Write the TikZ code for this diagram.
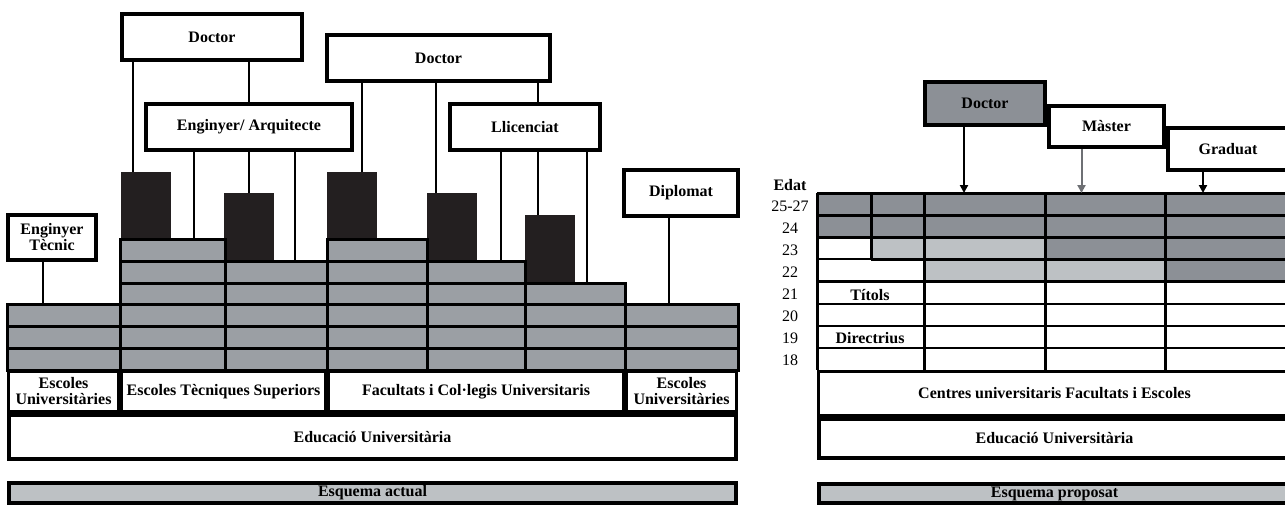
\documentclass[tikz,border=0pt]{standalone}
\usepackage{fontspec}
\setmainfont{Liberation Serif}
\usepackage{tikz}
\usetikzlibrary{arrows.meta}
\usetikzlibrary{positioning}

\definecolor{cellgrey}{HTML}{9B9FA4}
\definecolor{darkcell}{HTML}{8C9096}
\definecolor{lightcell}{HTML}{BDC1C4}
\definecolor{blockblack}{HTML}{231F20}
\definecolor{arrowgrey}{HTML}{6E7074}

\begin{document}
\begin{tikzpicture}[x=1pt, y=-1pt,
    every node/.style={font=\fontsize{16}{17}\selectfont, inner sep=0pt},
    titlebox/.style={draw, line width=4pt, fill=white, align=center,
        font=\fontsize{16}{16}\selectfont\bfseries},
    rowbox/.style={draw, line width=3pt, fill=white, align=center,
        font=\fontsize{16}{16}\selectfont\bfseries},
    blk/.style={fill=blockblack, minimum width=50pt, outer sep=0pt, anchor=north west},
    gcell/.style={fill=cellgrey, draw=black, line width=3pt},
    conn/.style={line width=2pt},
    arr/.style={line width=2pt, -{Triangle[width=8pt,length=8pt]}},
    heavy/.style={line width=3pt},
    light/.style={line width=2pt}]
    \useasboundingbox (0,0) rectangle (1285,507);

    % esquema actual
    \node[blk, minimum height=68pt] (bk1) at (121,172) {};
    \node[blk, minimum height=69pt] (bk2) at (224,193) {};
    \node[blk, minimum height=68pt] (bk3) at (327,172) {};
    \node[blk, minimum height=69pt] (bk4) at (427,193) {};
    \node[blk, minimum height=69pt] (bk5) at (525,215) {};

    \foreach \xa/\xb/\n in {7/120/3, 120/225/6, 225/327/5, 327/427/6,
                            427/525/5, 525/625/4, 625/738/3}
        \foreach \i in {1,...,\n}
            \draw[gcell] (\xa,{370-(\i-1)*21.67}) rectangle (\xb,{370-\i*21.67});

    \coordinate (ea1) at (194,240);
    \coordinate (ea3) at (295,262);
    \coordinate (ll1) at (501,262);
    \coordinate (ll3) at (587,284);
    \coordinate (et) at (43,306);
    \coordinate (dp) at (669,306);

    \node[titlebox, minimum width=180pt, minimum height=46pt] (doc1) at (212,37) {Doctor};
    \node[titlebox, minimum width=206pt, minimum height=46pt] (engarq) at (249,127) {Enginyer/ Arquitecte};
    \node[titlebox, minimum width=223pt, minimum height=46pt] (doc2) at (438.5,58) {Doctor};
    \node[titlebox, minimum width=150pt, minimum height=46pt] (llic) at (525,127) {Llicenciat};
    \node[titlebox, minimum width=114pt, minimum height=46pt] (dipl) at (681,193) {Diplomat};
    \node[titlebox, minimum width=88pt, minimum height=45pt] (engtec) at (52,237) {Enginyer\\Tècnic};

    \draw[conn] ([xshift=12pt]bk1.north west) -- ([xshift=12pt]bk1.north west |- doc1.south);
    \draw[conn] (engarq.north) -- (engarq.north |- doc1.south);
    \draw[conn] (ea1) -- (ea1 |- engarq.south);
    \draw[conn] (bk2.north) -- (bk2.north |- engarq.south);
    \draw[conn] (ea3) -- (ea3 |- engarq.south);
    \draw[conn] ([xshift=35pt]bk3.north west) -- ([xshift=35pt]bk3.north west |- doc2.south);
    \draw[conn] ([xshift=9pt]bk4.north west) -- ([xshift=9pt]bk4.north west |- doc2.south);
    \draw[conn] ([xshift=13pt]llic.north) -- ([xshift=13pt]llic.north |- doc2.south);
    \draw[conn] (ll1) -- (ll1 |- llic.south);
    \draw[conn] ([xshift=13pt]bk5.north west) -- ([xshift=13pt]bk5.north west |- llic.south);
    \draw[conn] (ll3) -- (ll3 |- llic.south);
    \draw[conn] (et) -- (et |- engtec.south);
    \draw[conn] (dp) -- (dp |- dipl.south);

    \node[rowbox, minimum width=110pt, minimum height=40pt] (eu1) at (63.5,391.5) {Escoles\\Universitàries};
    \node[rowbox, minimum width=204pt, minimum height=40pt] (ets) at (223.5,391.5) {Escoles Tècniques Superiors};
    \node[rowbox, minimum width=295pt, minimum height=40pt] (fcu) at (476,391.5) {Facultats i Col·legis Universitaris};
    \node[rowbox, minimum width=110pt, minimum height=40pt] (eu2) at (681.5,391.5) {Escoles\\Universitàries};
    \node[rowbox, line width=4pt, minimum width=727pt, minimum height=44pt] (edu1) at (372.5,437) {Educació Universitària};
    \node[rowbox, line width=4pt, fill=lightcell, minimum width=727pt, minimum height=20pt] (esq1) at (372.5,493) {Esquema actual};

    % esquema proposat
    \fill[darkcell] (817,193) rectangle (1292,237.3);
    \fill[darkcell] (1045,237.3) rectangle (1292,259.4);
    \fill[darkcell] (1165,259.4) rectangle (1292,281.5);
    \fill[lightcell] (871,237.3) rectangle (1045,259.4);
    \fill[lightcell] (924,259.4) rectangle (1165,281.5);

    \foreach \y in {193,215.1,237.3,281.5}
        \draw[heavy] (817,\y) -- (1292,\y);
    \draw[heavy] (871,259.4) -- (1292,259.4);
    \draw[light] (817,259.4) -- (871,259.4);
    \foreach \y in {303.6,325.8,347.9}
        \draw[light] (817,\y) -- (1292,\y);
    \foreach \x in {817,924,1045,1165}
        \draw[heavy] (\x,193) -- (\x,370);
    \draw[heavy] (871,193) -- (871,259.4);

    \coordinate (gtop) at (817,193);

    \node[font=\fontsize{16}{17}\selectfont\bfseries] (edat) at (790,185) {Edat};
    \foreach \t [count=\k] in {25-27,24,23,22,21,20,19,18}
        \node (age\k) at (790,{184.5+\k*22}) {\t};
    \node[font=\fontsize{16}{17}\selectfont\bfseries] (titols) at (870,295) {Títols};
    \node[font=\fontsize{16}{17}\selectfont\bfseries] (direc) at (870,338) {Directrius};

    \node[titlebox, fill=darkcell, minimum width=120pt, minimum height=43pt] (docR) at (985,103.5) {Doctor};
    \node[titlebox, minimum width=115pt, minimum height=41pt] (mas) at (1106.5,126.5) {Màster};
    \node[titlebox, minimum width=120pt, minimum height=42pt] (grad) at (1228,149) {Graduat};

    \draw[arr] ([xshift=-21pt]docR.south) -- ([xshift=-21pt]docR.south |- gtop);
    \draw[arr, arrowgrey] ([xshift=-25pt]mas.south) -- ([xshift=-25pt]mas.south |- gtop);
    \draw[arr] ([xshift=-25pt]grad.south) -- ([xshift=-25pt]grad.south |- gtop);

    \node[rowbox, minimum width=472pt, minimum height=44pt] (cent) at (1054.5,393.5) {Centres universitaris Facultats i Escoles};
    \node[rowbox, line width=4pt, minimum width=472pt, minimum height=39pt] (edu2) at (1054.5,438) {Educació Universitària};
    \node[rowbox, line width=4pt, fill=lightcell, minimum width=472pt, minimum height=19pt] (esq2) at (1054.5,493.5) {Esquema proposat};
\end{tikzpicture}
\end{document}
